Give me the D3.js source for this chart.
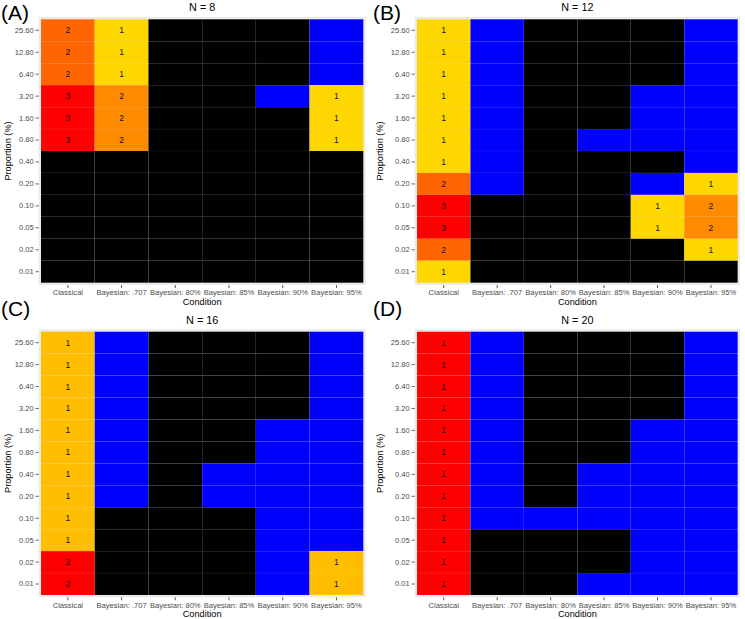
<!DOCTYPE html>
<html><head><meta charset="utf-8">
<script src="https://cdn.jsdelivr.net/npm/d3@7"></script>
<style>
body{margin:0;background:#fff;}
svg{display:block;font-family:"Liberation Sans",Arial,Helvetica,sans-serif;}
</style></head>
<body><svg id="chart" width="745" height="619"></svg>
<script>
// ---------- data ----------
const proportions = ["25.60","12.80","6.40","3.20","1.60","0.80","0.40","0.20","0.10","0.05","0.02","0.01"];
const conditions = ["Classical","Bayesian: .707","Bayesian: 80%","Bayesian: 85%","Bayesian: 90%","Bayesian: 95%"];
const panelLetters = ["(A)","(B)","(C)","(D)"];
const sampleSizes = [8, 12, 16, 20];

// counts shown in cells (per condition, top row 25.60 -> bottom row 0.01); 0 = no label
const countsA = [
  [2,2,2,3,3,3,0,0,0,0,0,0],
  [1,1,1,2,2,2,0,0,0,0,0,0],
  [0,0,0,0,0,0,0,0,0,0,0,0],
  [0,0,0,0,0,0,0,0,0,0,0,0],
  [0,0,0,0,0,0,0,0,0,0,0,0],
  [0,0,0,1,1,1,0,0,0,0,0,0]];
const countsB = [
  [1,1,1,1,1,1,1,2,3,3,2,1],
  [0,0,0,0,0,0,0,0,0,0,0,0],
  [0,0,0,0,0,0,0,0,0,0,0,0],
  [0,0,0,0,0,0,0,0,0,0,0,0],
  [0,0,0,0,0,0,0,0,1,1,0,0],
  [0,0,0,0,0,0,0,1,2,2,1,0]];
const countsC = [
  [1,1,1,1,1,1,1,1,1,1,2,2],
  [0,0,0,0,0,0,0,0,0,0,0,0],
  [0,0,0,0,0,0,0,0,0,0,0,0],
  [0,0,0,0,0,0,0,0,0,0,0,0],
  [0,0,0,0,0,0,0,0,0,0,0,0],
  [0,0,0,0,0,0,0,0,0,0,1,1]];
const countsD = [
  [1,1,1,1,1,1,1,1,1,1,1,1],
  [0,0,0,0,0,0,0,0,0,0,0,0],
  [0,0,0,0,0,0,0,0,0,0,0,0],
  [0,0,0,0,0,0,0,0,0,0,0,0],
  [0,0,0,0,0,0,0,0,0,0,0,0],
  [0,0,0,0,0,0,0,0,0,0,0,0]];

// heat level (0 = gold ... 1 = red) for labelled cells
const heatA = [
  [0.53,0.53,0.53,1,1,1,0,0,0,0,0,0],
  [0,0,0,0.35,0.35,0.35,0,0,0,0,0,0],
  [0,0,0,0,0,0,0,0,0,0,0,0],
  [0,0,0,0,0,0,0,0,0,0,0,0],
  [0,0,0,0,0,0,0,0,0,0,0,0],
  [0,0,0,0,0,0,0,0,0,0,0,0]];
const heatB = [
  [0,0,0,0,0,0,0,0.53,1,1,0.53,0],
  [0,0,0,0,0,0,0,0,0,0,0,0],
  [0,0,0,0,0,0,0,0,0,0,0,0],
  [0,0,0,0,0,0,0,0,0,0,0,0],
  [0,0,0,0,0,0,0,0,0,0,0,0],
  [0,0,0,0,0,0,0,0,0.35,0.35,0,0]];
const heatC = [
  [0.11,0.11,0.11,0.11,0.11,0.11,0.11,0.11,0.11,0.11,1,1],
  [0,0,0,0,0,0,0,0,0,0,0,0],
  [0,0,0,0,0,0,0,0,0,0,0,0],
  [0,0,0,0,0,0,0,0,0,0,0,0],
  [0,0,0,0,0,0,0,0,0,0,0,0],
  [0,0,0,0,0,0,0,0,0,0,0.11,0.11]];
const heatD = [
  [1,1,1,1,1,1,1,1,1,1,1,1],
  [0,0,0,0,0,0,0,0,0,0,0,0],
  [0,0,0,0,0,0,0,0,0,0,0,0],
  [0,0,0,0,0,0,0,0,0,0,0,0],
  [0,0,0,0,0,0,0,0,0,0,0,0],
  [0,0,0,0,0,0,0,0,0,0,0,0]];

// blue cells (1 = blue) among unlabelled cells
const blueA = [
  [0,0,0,0,0,0,0,0,0,0,0,0],
  [0,0,0,0,0,0,0,0,0,0,0,0],
  [0,0,0,0,0,0,0,0,0,0,0,0],
  [0,0,0,0,0,0,0,0,0,0,0,0],
  [0,0,0,1,0,0,0,0,0,0,0,0],
  [1,1,1,0,0,0,0,0,0,0,0,0]];
const blueB = [
  [0,0,0,0,0,0,0,0,0,0,0,0],
  [1,1,1,1,1,1,1,1,0,0,0,0],
  [0,0,0,0,0,0,0,0,0,0,0,0],
  [0,0,0,0,0,1,0,0,0,0,0,0],
  [0,0,0,1,1,1,0,1,0,0,0,0],
  [1,1,1,1,1,1,1,0,0,0,0,0]];
const blueC = [
  [0,0,0,0,0,0,0,0,0,0,0,0],
  [1,1,1,1,1,1,1,1,0,0,0,0],
  [0,0,0,0,0,0,0,0,0,0,0,0],
  [0,0,0,0,0,0,1,1,0,0,0,0],
  [0,0,0,0,1,1,1,1,1,1,1,1],
  [1,1,1,1,1,1,1,1,1,1,0,0]];
const blueD = [
  [0,0,0,0,0,0,0,0,0,0,0,0],
  [1,1,1,1,1,1,1,1,1,0,0,0],
  [0,0,0,0,0,0,0,0,1,0,0,0],
  [0,0,0,0,0,0,1,1,1,0,0,1],
  [0,0,0,0,1,1,1,1,1,1,1,1],
  [1,1,1,1,1,1,1,1,1,1,1,1]];

const panelCounts = [countsA, countsB, countsC, countsD];
const panelHeat = [heatA, heatB, heatC, heatD];
const panelBlue = [blueA, blueB, blueC, blueD];

// ---------- drawing ----------
const svg = d3.select("#chart");
const heatColor = d3.scaleLinear().domain([0, 1]).range(["#FFD700", "#FF0000"]).interpolate(d3.interpolateRgb);

const layout = [
  {ox: 0,   oy: 0,   x0: 41,  x1: 363.3, y0: 19.3,  y1: 282.7},
  {ox: 372, oy: 0,   x0: 417, x1: 737.7, y0: 19.3,  y1: 282.7},
  {ox: 0,   oy: 296, x0: 41,  x1: 363.3, y0: 331.7, y1: 595},
  {ox: 372, oy: 296, x0: 417, x1: 737.7, y0: 331.7, y1: 595}
];

layout.forEach((L, p) => {
  const g = svg.append("g");
  const x = d3.scaleBand().domain(conditions).range([L.x0, L.x1]).padding(0);
  const y = d3.scaleBand().domain(proportions).range([L.y0, L.y1]).padding(0);

  // panel background
  g.append("rect")
    .attr("x", L.x0 - 2.3).attr("y", L.y0 - 2.3)
    .attr("width", L.x1 - L.x0 + 4.6).attr("height", L.y1 - L.y0 + 4.6)
    .attr("fill", "#EBEBEB");

  const cells = [];
  conditions.forEach((c, ci) => {
    proportions.forEach((r, ri) => {
      cells.push({
        c, r,
        count: panelCounts[p][ci][ri],
        heat: panelHeat[p][ci][ri],
        blue: panelBlue[p][ci][ri]
      });
    });
  });

  g.selectAll("rect.tile").data(cells).enter().append("rect")
    .attr("class", "tile")
    .attr("x", d => x(d.c)).attr("y", d => y(d.r))
    .attr("width", x.bandwidth()).attr("height", y.bandwidth())
    .attr("fill", d => d.count > 0 ? heatColor(d.heat) : (d.blue ? "#0000FF" : "#000000"))
    .attr("stroke", "rgba(235,235,235,0.08)").attr("stroke-width", 0.6);

  g.selectAll("text.lab").data(cells.filter(d => d.count > 0)).enter().append("text")
    .attr("class", "lab")
    .attr("x", d => x(d.c) + x.bandwidth() / 2)
    .attr("y", d => y(d.r) + y.bandwidth() / 2)
    .attr("text-anchor", "middle").attr("dominant-baseline", "central")
    .attr("font-size", 8.5).attr("fill", "#111")
    .text(d => d.count);

  // axes
  const ya = g.append("g").attr("transform", `translate(${L.x0 - 2.3},0)`)
    .call(d3.axisLeft(y).tickSize(3).tickPadding(2));
  const xa = g.append("g").attr("transform", `translate(0,${L.y1 + 2.3})`)
    .call(d3.axisBottom(x).tickSize(3).tickPadding(2));
  [ya, xa].forEach(a => {
    a.select(".domain").remove();
    a.selectAll(".tick line").attr("stroke", "#333").attr("stroke-width", 0.8);
    a.selectAll(".tick text").attr("fill", "#4D4D4D").attr("font-size", 7.6)
      .attr("font-family", "Liberation Sans, Arial, sans-serif");
  });

  // axis titles
  g.append("text")
    .attr("x", (L.x0 + L.x1) / 2).attr("y", L.y1 + 19)
    .attr("text-anchor", "middle").attr("dominant-baseline", "central")
    .attr("font-size", 9.2).attr("fill", "#000").text("Condition");
  g.append("text")
    .attr("transform", `translate(${L.ox + 7.5},${(L.y0 + L.y1) / 2}) rotate(-90)`)
    .attr("text-anchor", "middle").attr("dominant-baseline", "central")
    .attr("font-size", 9.2).attr("fill", "#000").text("Proportion (%)");

  // title
  g.append("text")
    .attr("x", (L.x0 + L.x1) / 2).attr("y", L.y0 - 12)
    .attr("text-anchor", "middle").attr("dominant-baseline", "central")
    .attr("font-size", 10.8).attr("fill", "#000").text("N = " + sampleSizes[p]);

  // panel letter
  g.append("text")
    .attr("x", L.ox + 1).attr("y", L.oy + 20)
    .attr("font-size", 21).attr("fill", "#000").text(panelLetters[p]);
});
</script>
</body></html>
